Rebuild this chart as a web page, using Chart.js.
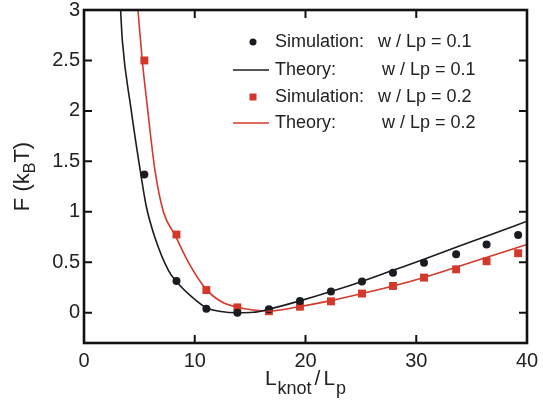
<!DOCTYPE html>
<html>
<head>
<meta charset="utf-8">
<script src="https://cdn.jsdelivr.net/npm/chart.js"></script>
<style>
  body { margin: 0; background: #fff; }
  #wrap { width: 543px; height: 403px; position: relative; }
</style>
</head>
<body>
<div id="wrap"><canvas id="myChart"></canvas></div>
<script>

    // simulation points (both series share the same knot lengths)
    const simX  = [5.45, 8.35, 11.05, 13.85, 16.7, 19.5, 22.3, 25.1, 27.9, 30.7, 33.6, 36.35, 39.2];
    const simY1 = [1.37, 0.315, 0.04, 0.0, 0.035, 0.115, 0.21, 0.31, 0.395, 0.495, 0.58, 0.675, 0.77];
    const simY2 = [2.5, 0.775, 0.225, 0.053, 0.015, 0.06, 0.113, 0.19, 0.265, 0.348, 0.43, 0.51, 0.59];

    // theory curves
    const theoryX1 = [3.31, 3.46, 4.22, 5.12, 5.63, 6.48, 7.62, 8.34, 9.76, 11.05, 12.38, 13.85, 15.27, 16.7, 19.4, 22.3, 25.1, 27.9, 30.7, 33.6, 36.4, 40];
    const theoryY1 = [2.99, 2.70, 2.04, 1.38, 1.05, 0.72, 0.42, 0.31, 0.155, 0.05, 0.012, 0.0, 0.004, 0.035, 0.115, 0.21, 0.31, 0.42, 0.53, 0.65, 0.76, 0.907];
    const theoryX2 = [4.88, 5.27, 5.66, 6.41, 7.18, 8.22, 9.48, 11.02, 12.46, 13.82, 15.27, 16.7, 19.4, 22.3, 25.1, 27.9, 30.7, 33.6, 36.4, 40];
    const theoryY2 = [2.99, 2.49, 2.10, 1.41, 0.996, 0.768, 0.49, 0.234, 0.106, 0.056, 0.027, 0.017, 0.06, 0.12, 0.19, 0.265, 0.35, 0.45, 0.55, 0.676];

    const xTicks = [0, 10, 20, 30, 40];
    const yTicks = [0, 0.5, 1, 1.5, 2, 2.5, 3];

    const legendNames  = ['Simulation:', 'Theory:', 'Simulation:', 'Theory:'];
    const legendParams = ['w / Lp = 0.1', 'w / Lp = 0.1', 'w / Lp = 0.2', 'w / Lp = 0.2'];

    const black = '#1b1b22';
    const red = '#d3392b';
    const textColor = '#222';
    const fontFamily = "'Liberation Sans', Arial, Helvetica, sans-serif";

    function toPoints(xs, ys) {
        return xs.map((x, i) => ({ x: x, y: ys[i] }));
    }

    const data = {
        datasets: [
            {
                label: 'Theory: w / Lp = 0.1',
                data: toPoints(theoryX1, theoryY1),
                showLine: true,
                borderColor: black,
                borderWidth: 1.6,
                pointRadius: 0,
                cubicInterpolationMode: 'monotone',
            },
            {
                label: 'Theory: w / Lp = 0.2',
                data: toPoints(theoryX2, theoryY2),
                showLine: true,
                borderColor: red,
                borderWidth: 1.6,
                pointRadius: 0,
                cubicInterpolationMode: 'monotone',
            },
            {
                label: 'Simulation: w / Lp = 0.1',
                data: toPoints(simX, simY1),
                pointStyle: 'circle',
                pointRadius: 4,
                backgroundColor: black,
                borderWidth: 0,
            },
            {
                label: 'Simulation: w / Lp = 0.2',
                data: toPoints(simX, simY2),
                pointStyle: 'rect',
                pointRadius: 5.6,
                backgroundColor: red,
                borderWidth: 0,
            },
        ]
    };

    // box frame + inward ticks on all four sides
    const frame = {
        id: 'frame',
        afterDraw(chart) {
            const { ctx, chartArea: a, scales: { x, y } } = chart;
            ctx.save();
            ctx.strokeStyle = '#111';
            ctx.lineWidth = 2;
            ctx.beginPath();
            xTicks.forEach(v => {
                const px = x.getPixelForValue(v);
                if (px <= a.left + 1 || px >= a.right - 1) return;
                ctx.moveTo(px, a.bottom); ctx.lineTo(px, a.bottom - 8);
                ctx.moveTo(px, a.top); ctx.lineTo(px, a.top + 8);
            });
            yTicks.forEach(v => {
                const py = y.getPixelForValue(v);
                if (py <= a.top + 1 || py >= a.bottom - 1) return;
                ctx.moveTo(a.left, py); ctx.lineTo(a.left + 8, py);
                ctx.moveTo(a.right, py); ctx.lineTo(a.right - 8, py);
            });
            ctx.stroke();
            ctx.lineWidth = 2.6;
            ctx.strokeRect(a.left, a.top, a.width, a.height);
            ctx.restore();
        }
    };

    // axis titles with subscripts
    const titles = {
        id: 'titles',
        afterDraw(chart) {
            const { ctx, chartArea: a } = chart;
            const big = '22px ' + fontFamily;
            const small = '16px ' + fontFamily;
            ctx.save();
            ctx.fillStyle = textColor;
            ctx.textBaseline = 'alphabetic';
            ctx.textAlign = 'left';

            // y title: F (k_B T)
            ctx.font = big;
            const w1 = ctx.measureText('F (k').width;
            const w3 = ctx.measureText('T)').width;
            ctx.font = small;
            const w2 = ctx.measureText('B').width;
            const total = w1 + w2 + w3;
            ctx.translate(29, (a.top + a.bottom) / 2 + total / 2);
            ctx.rotate(-Math.PI / 2);
            ctx.font = big;
            ctx.fillText('F (k', 0, 0);
            ctx.font = small;
            ctx.fillText('B', w1, 6);
            ctx.font = big;
            ctx.fillText('T)', w1 + w2, 0);
            ctx.setTransform(1, 0, 0, 1, 0, 0);

            // x title: L_knot / L_p
            const mainFont = '21px ' + fontFamily;
            const subFont = '18px ' + fontFamily;
            const parts = [
                ['L', mainFont, 0, 1],
                ['knot', subFont, 9, 3],
                ['/', mainFont, 0, 3],
                ['L', mainFont, 0, 1],
                ['p', subFont, 9, 0],
            ];
            let width = 0;
            parts.forEach(p => { ctx.font = p[1]; width += ctx.measureText(p[0]).width + p[3]; });
            let cx = (a.left + a.right) / 2 - width / 2;
            const base = 385;
            parts.forEach(p => {
                ctx.font = p[1];
                ctx.fillText(p[0], cx, base + p[2]);
                cx += ctx.measureText(p[0]).width + p[3];
            });
            ctx.restore();
        }
    };

    // legend inside the plot, two text columns
    const legendBox = {
        id: 'legendBox',
        afterDraw(chart) {
            const { ctx } = chart;
            const rowY = [42, 70, 97, 123];
            const paramX = [378, 382, 378, 382];
            ctx.save();
            ctx.font = '18px ' + fontFamily;
            ctx.fillStyle = textColor;
            ctx.textBaseline = 'middle';
            ctx.textAlign = 'left';
            legendNames.forEach((name, i) => {
                const y = rowY[i];
                if (i === 0) {
                    ctx.fillStyle = black;
                    ctx.beginPath(); ctx.arc(253, y, 3.5, 0, Math.PI * 2); ctx.fill();
                } else if (i === 2) {
                    ctx.fillStyle = red;
                    ctx.fillRect(249.5, y - 3.5, 7, 7);
                } else {
                    ctx.strokeStyle = i === 1 ? black : red;
                    ctx.lineWidth = 1.6;
                    ctx.beginPath(); ctx.moveTo(233, y); ctx.lineTo(269, y); ctx.stroke();
                }
                ctx.fillStyle = textColor;
                ctx.fillText(name, 275, y);
                ctx.fillText(legendParams[i], paramX[i], y);
            });
            ctx.restore();
        }
    };

    const tickFont = { family: fontFamily, size: 20, lineHeight: 1 };

    const config = {
        type: 'scatter',
        data,
        options: {
            responsive: true,
            maintainAspectRatio: false,
            animation: false,
            layout: { padding: { top: 10, right: 16, left: 0, bottom: 0 } },
            plugins: {
                legend: { display: false },
                tooltip: { enabled: false },
            },
            scales: {
                x: {
                    type: 'linear',
                    min: 0,
                    max: 40,
                    afterBuildTicks: s => { s.ticks = xTicks.map(v => ({ value: v })); },
                    afterFit: s => { s.height = 60; s.paddingLeft = 0; s.paddingRight = 0; },
                    grid: { display: false, drawTicks: false },
                    border: { display: false },
                    ticks: {
                        font: tickFont,
                        color: textColor,
                        padding: 8,
                        maxRotation: 0,
                        autoSkip: false,
                        callback: v => String(v),
                    },
                },
                y: {
                    type: 'linear',
                    min: -0.3,
                    max: 3,
                    afterBuildTicks: s => { s.ticks = yTicks.map(v => ({ value: v })); },
                    afterFit: s => { s.width = 84; s.paddingTop = 0; s.paddingBottom = 0; },
                    grid: { display: false, drawTicks: false },
                    border: { display: false },
                    ticks: {
                        font: tickFont,
                        color: textColor,
                        padding: 4,
                        autoSkip: false,
                        callback: v => String(v),
                    },
                },
            },
        },
        plugins: [frame, titles, legendBox]
    };

    const myChart = new Chart(document.getElementById('myChart'), config);
</script>
</body>
</html>
